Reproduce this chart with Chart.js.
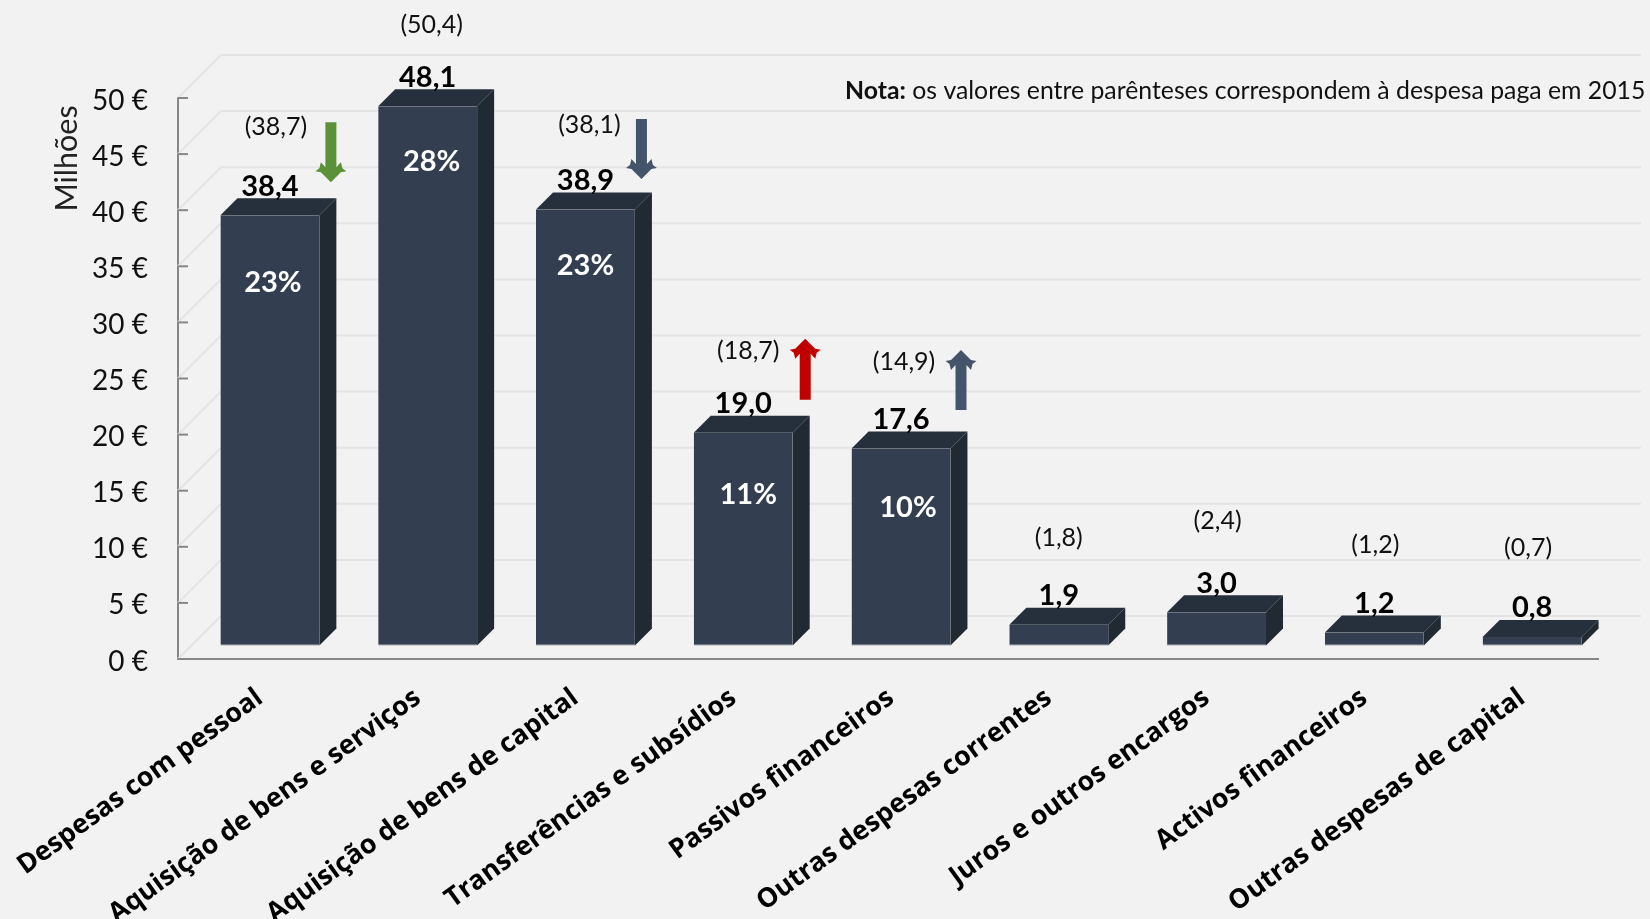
<!DOCTYPE html>
<html>
<head>
<meta charset="utf-8">
<script src="https://cdn.jsdelivr.net/npm/chart.js@4"></script>
<style>
  html, body { margin: 0; padding: 0; background: #f2f2f2; }
  canvas { display: block; }
</style>
</head>
<body>
<canvas id="despesa" width="1650" height="919"></canvas>
<script>
// valores em milhões de euros
const categories = ['Despesas com pessoal', 'Aquisição de bens e serviços', 'Aquisição de bens de capital',
  'Transferências e subsídios', 'Passivos financeiros', 'Outras despesas correntes',
  'Juros e outros encargos', 'Activos financeiros', 'Outras despesas de capital'];
const despesa2016 = [38.4, 48.1, 38.9, 19.0, 17.6, 1.9, 3.0, 1.2, 0.8];
const paga2015 = [38.7, 50.4, 38.1, 18.7, 14.9, 1.8, 2.4, 1.2, 0.7];
const pesos = [23, 28, 23, 11, 10];
const notaBold = 'Nota:';
const notaText = ' os valores entre parênteses correspondem à despesa paga em 2015';
const yTitle = 'Milhões';

// layout das anotacoes (pixeis relativos a barra)
const DEPTH = 17, FRONT = 13, WALL = 43;
const paidOffsets = [[19, -101], [17, -94], [17, -97.5], [18, -95], [16, -99.5], [13, -100], [14, -104], [14, -100.5], [9, -102]];
const pesoOffsets = [[3, 67], [4, 55], [0, 56], [5, 62], [7, 59]];
const arrows = [
  { i: 0, dx: 74, tip: -46, tail: -106, color: '#5b9138' },
  { i: 2, dx: 69, tip: -43.5, tail: -103.5, color: '#44546a' },
  { i: 3, dx: 75, tip: -107, tail: -46, color: '#c00000' },
  { i: 4, dx: 73, tip: -111.5, tail: -51.5, color: '#44546a' }
];

const fontName = 'Lato, "Open Sans", sans-serif';
const fmt = v => v.toFixed(1).replace('.', ',');

function drawArrow(ctx, x, tip, tail, color) {
  // cabeca recortada como no original
  const s = tail > tip ? 1 : -1;
  const half = [[5.5, tail], [5.5, tip + s * 15], [10, tip + s * 20], [11.5, tip + s * 14], [15.5, tip + s * 11], [10, tip + s * 10]];
  const pts = half.map(p => [-p[0], p[1]]).concat([[0, tip]], half.slice().reverse());
  ctx.fillStyle = color;
  ctx.beginPath();
  pts.forEach((p, n) => n ? ctx.lineTo(x + p[0], p[1]) : ctx.moveTo(x + p[0], p[1]));
  ctx.closePath();
  ctx.fill();
}

// desloca as etiquetas de um eixo sem mexer na escala
function shiftLabels(s, dx, dy) {
  if (s._shifted) return;
  s._shifted = true;
  const drawLabels = s.drawLabels;
  s.drawLabels = function (area) {
    s.ctx.save();
    s.ctx.translate(dx, dy);
    drawLabels.call(s, area);
    s.ctx.restore();
  };
}

const box3d = {
  id: 'box3d',
  beforeDatasetsDraw(chart) {
    const { ctx, scales: { x, y }, chartArea } = chart;
    // paredes e grelha em perspectiva
    ctx.save();
    ctx.strokeStyle = '#e4e4e4';
    ctx.lineWidth = 2;
    y.ticks.forEach(t => {
      const py = y.getPixelForValue(t.value);
      ctx.beginPath();
      ctx.moveTo(chartArea.left, py);
      ctx.lineTo(chartArea.left + WALL, py - WALL);
      ctx.lineTo(chartArea.right + WALL, py - WALL);
      ctx.stroke();
    });
    ctx.strokeStyle = '#868686';
    y.ticks.forEach(t => {
      const py = y.getPixelForValue(t.value);
      ctx.beginPath();
      ctx.moveTo(chartArea.left, py);
      ctx.lineTo(chartArea.left + 10, py);
      ctx.stroke();
    });
    ctx.restore();
    // as barras ficam a meio da profundidade
    ctx.save();
    ctx.translate(FRONT, -FRONT);
  },
  afterDatasetsDraw(chart) {
    const { ctx, scales: { x, y } } = chart;
    const bars = chart.getDatasetMeta(0).data;
    bars.forEach(b => {
      const p = b.getProps(['x', 'y', 'base', 'width'], true);
      const l = p.x - p.width / 2, r = p.x + p.width / 2;
      ctx.fillStyle = '#262f3c';
      ctx.beginPath();
      ctx.moveTo(l, p.y);
      ctx.lineTo(l + DEPTH, p.y - DEPTH);
      ctx.lineTo(r + DEPTH, p.y - DEPTH);
      ctx.lineTo(r, p.y);
      ctx.closePath();
      ctx.fill();
      ctx.fillStyle = '#212933';
      ctx.beginPath();
      ctx.moveTo(r, p.y);
      ctx.lineTo(r + DEPTH, p.y - DEPTH);
      ctx.lineTo(r + DEPTH, p.base - DEPTH);
      ctx.lineTo(r, p.base);
      ctx.closePath();
      ctx.fill();
    });
    ctx.restore();

    ctx.save();
    ctx.textAlign = 'center';
    ctx.textBaseline = 'middle';
    despesa2016.forEach((v, i) => {
      const px = x.getPixelForValue(i), py = y.getPixelForValue(v);
      ctx.fillStyle = '#000';
      ctx.font = 'bold 29px ' + fontName;
      ctx.fillText(fmt(v), px + FRONT, py - 42);
      ctx.font = '25px ' + fontName;
      ctx.fillStyle = '#111';
      ctx.fillText('(' + fmt(paga2015[i]) + ')', px + paidOffsets[i][0], py + paidOffsets[i][1]);
    });
    pesos.forEach((v, i) => {
      const px = x.getPixelForValue(i) + FRONT, py = y.getPixelForValue(despesa2016[i]) - FRONT;
      ctx.fillStyle = '#fff';
      ctx.font = 'bold 29px ' + fontName;
      ctx.fillText(v + '%', px + pesoOffsets[i][0], py + pesoOffsets[i][1]);
    });
    arrows.forEach(a => {
      const px = x.getPixelForValue(a.i) + a.dx, py = y.getPixelForValue(despesa2016[a.i]);
      drawArrow(ctx, px, py + a.tip, py + a.tail, a.color);
    });

    // nota
    ctx.textAlign = 'left';
    ctx.fillStyle = '#111';
    ctx.font = 'bold 24.8px ' + fontName;
    const w = ctx.measureText(notaBold).width;
    ctx.fillText(notaBold, 845, 91);
    ctx.font = '24.8px ' + fontName;
    ctx.fillText(notaText, 845 + w, 91);

    // titulo do eixo
    ctx.translate(67, 158.5);
    ctx.rotate(-Math.PI / 2);
    ctx.textAlign = 'center';
    ctx.font = '30.5px ' + fontName;
    ctx.fillStyle = '#222';
    ctx.fillText(yTitle, 0, 0);
    ctx.restore();
  }
};

new Chart(document.getElementById('despesa'), {
  type: 'bar',
  data: {
    labels: categories,
    datasets: [{
      label: 'Despesa',
      data: despesa2016,
      backgroundColor: '#333f50',
      borderColor: '#66707d',
      borderWidth: { bottom: 1 },
      borderSkipped: false,
      barPercentage: 0.627,
      categoryPercentage: 1,
      clip: false
    }]
  },
  options: {
    responsive: false,
    animation: false,
    layout: { padding: { top: 98, right: 52 } },
    plugins: { legend: { display: false }, tooltip: { enabled: false } },
    scales: {
      x: {
        grid: { drawOnChartArea: false, drawTicks: false },
        border: { color: '#868686', width: 2 },
        // o rotulo inclinado nao deve empurrar a area do grafico
        afterFit(s) { s.height = 260; s.paddingLeft = 0; s.paddingRight = 0; },
        afterUpdate(s) { shiftLabels(s, 3, 0); },
        ticks: {
          color: '#000',
          font: { family: '"Open Sans", sans-serif', size: 26.8, weight: 'bold' },
          minRotation: 36,
          maxRotation: 36,
          autoSkip: false,
          padding: 23
        }
      },
      y: {
        min: 0,
        max: 50,
        grid: { drawOnChartArea: false, drawTicks: false },
        border: { color: '#868686', width: 2 },
        afterFit(s) { s.width = 178; },
        // as etiquetas do original ficam um pouco abaixo do traço
        afterUpdate(s) { shiftLabels(s, 0, 2.5); },
        ticks: {
          stepSize: 5,
          color: '#111',
          font: { family: fontName, size: 28 },
          padding: 30,
          callback: v => v + ' €'
        }
      }
    }
  },
  plugins: [box3d]
});
</script>
</body>
</html>
